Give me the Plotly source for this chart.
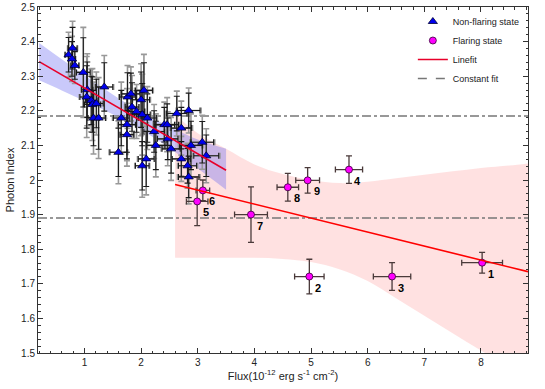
import plotly.graph_objects as go

# non-flaring state (blue triangles)
nf_flux = [0.72, 0.79, 0.78, 0.83, 0.98, 1.05, 1.04, 1.12, 1.14, 1.21, 1.16, 1.25, 1.35, 1.65,
           1.60, 1.75, 1.75, 1.76, 1.82, 1.84, 1.92, 2.00, 2.05, 2.02, 2.11, 2.02, 2.09, 2.23,
           2.26, 2.41, 2.46, 2.47, 2.53, 2.63, 2.84, 2.71, 2.71, 2.88, 2.82, 2.84, 3.08, 3.15]
nf_index = [2.362, 2.381, 2.350, 2.331, 2.311, 2.261, 2.240, 2.230, 2.218, 2.221, 2.179, 2.179,
            2.269, 2.179, 2.080, 2.160, 2.131, 2.240, 2.249, 2.211, 2.198, 2.232, 2.259, 2.189,
            2.179, 2.041, 2.061, 2.140, 2.100, 2.160, 2.160, 2.119, 2.090, 2.192, 2.201, 2.150,
            2.061, 2.100, 2.041, 2.009, 2.109, 2.070]
nf_flux_err = [0.06, 0.08, 0.06, 0.07, 0.12, 0.10, 0.12, 0.10, 0.14, 0.12, 0.10, 0.12, 0.15, 0.14,
               0.15, 0.15, 0.12, 0.14, 0.16, 0.12, 0.14, 0.15, 0.15, 0.14, 0.16, 0.12, 0.14, 0.18,
               0.16, 0.18, 0.20, 0.18, 0.16, 0.18, 0.20, 0.18, 0.16, 0.20, 0.16, 0.18, 0.20, 0.22]
nf_index_err = [0.05, 0.06, 0.05, 0.04, 0.10, 0.08, 0.09, 0.07, 0.08, 0.07, 0.08, 0.09, 0.07, 0.08,
                0.07, 0.08, 0.07, 0.07, 0.06, 0.07, 0.06, 0.08, 0.08, 0.09, 0.07, 0.07, 0.08, 0.06,
                0.07, 0.05, 0.06, 0.06, 0.07, 0.05, 0.05, 0.06, 0.05, 0.07, 0.05, 0.06, 0.06, 0.06]

# flaring state (magenta circles), labelled 1..9
fl_label = ["1", "2", "3", "4", "5", "6", "7", "8", "9"]
fl_flux = [8.02, 4.97, 6.43, 5.67, 2.99, 3.09, 3.94, 4.59, 4.94]
fl_index = [1.761, 1.721, 1.721, 2.030, 1.938, 1.970, 1.900, 1.979, 1.999]
fl_flux_err = [0.36, 0.26, 0.33, 0.24, 0.19, 0.12, 0.29, 0.19, 0.21]
fl_index_err = [0.03, 0.05, 0.04, 0.04, 0.07, 0.03, 0.08, 0.04, 0.037]

# linear fits and confidence bands
nf_fit_x = [0.2, 3.5]
nf_fit_y = [2.342, 2.028]
nf_band_x = [0.2, 0.6, 1.0, 1.4, 1.8, 2.2, 2.6, 3.0, 3.5]
nf_band_hi = [2.396, 2.349, 2.303, 2.258, 2.216, 2.179, 2.147, 2.117, 2.090]
nf_band_lo = [2.288, 2.259, 2.229, 2.198, 2.164, 2.125, 2.081, 2.033, 1.972]

fl_fit_x = [2.6, 8.83]
fl_fit_y = [1.987, 1.735]
fl_band_x = [2.6, 3.0, 3.5, 4.0, 4.5, 5.0, 5.5, 6.0, 6.5, 7.0, 7.5, 8.0, 8.5, 8.83]
fl_band_hi = [2.19, 2.135, 2.09, 2.045, 2.017, 1.999, 1.991, 1.995, 2.005, 2.015, 2.025, 2.035, 2.042, 2.048]
fl_band_lo = [1.775, 1.775, 1.775, 1.775, 1.772, 1.763, 1.742, 1.708, 1.658, 1.608, 1.557, 1.507, 1.457, 1.42]

# constant fits
const_levels = [2.185, 1.890]

x_range = [0.18, 8.83]
y_range = [1.5, 2.5]

fig = go.Figure()

# confidence bands
fig.add_trace(go.Scatter(x=fl_band_x, y=fl_band_lo, mode="lines", line=dict(width=0, shape="spline"),
                         showlegend=False, hoverinfo="skip"))
fig.add_trace(go.Scatter(x=fl_band_x, y=fl_band_hi, mode="lines", line=dict(width=0, shape="spline"),
                         fill="tonexty", fillcolor="rgba(255,170,170,0.35)", showlegend=False, hoverinfo="skip"))
fig.add_trace(go.Scatter(x=nf_band_x, y=nf_band_lo, mode="lines", line=dict(width=0, shape="spline"),
                         showlegend=False, hoverinfo="skip"))
fig.add_trace(go.Scatter(x=nf_band_x, y=nf_band_hi, mode="lines", line=dict(width=0, shape="spline"),
                         fill="tonexty", fillcolor="rgba(100,100,240,0.35)", showlegend=False, hoverinfo="skip"))

# constant fit lines
for lev in const_levels:
  fig.add_trace(go.Scatter(x=x_range, y=[lev, lev], mode="lines",
                           line=dict(color="#777777", width=1.6, dash="dashdot"),
                           showlegend=False, hoverinfo="skip"))

# grey error bar underlay
fig.add_trace(go.Scatter(x=nf_flux, y=nf_index, mode="markers", marker=dict(size=1, opacity=0),
                         error_x=dict(type="data", array=[e * 1.1 for e in nf_flux_err], color="#999999", thickness=1.6, width=3),
                         error_y=dict(type="data", array=[e * 1.3 for e in nf_index_err], color="#999999", thickness=1.6, width=3),
                         showlegend=False, hoverinfo="skip"))

fig.add_trace(go.Scatter(x=nf_flux, y=nf_index, mode="markers", name="Non-flaring state",
                         marker=dict(symbol="triangle-up", size=8, color="#0000ee", line=dict(color="#000033", width=0.8)),
                         error_x=dict(type="data", array=nf_flux_err, color="#1a1a1a", thickness=1.1, width=3),
                         error_y=dict(type="data", array=nf_index_err, color="#1a1a1a", thickness=1.1, width=3)))

fig.add_trace(go.Scatter(x=fl_flux, y=fl_index, mode="markers", name="Flaring state",
                         marker=dict(symbol="circle", size=7, color="#ff00ff", line=dict(color="#330033", width=0.8)),
                         error_x=dict(type="data", array=fl_flux_err, color="#4a3a3a", thickness=1.3, width=3),
                         error_y=dict(type="data", array=fl_index_err, color="#4a3a3a", thickness=1.3, width=3)))

# fit lines
fig.add_trace(go.Scatter(x=nf_fit_x, y=nf_fit_y, mode="lines", line=dict(color="#e8002a", width=1.6),
                         name="Linefit"))
fig.add_trace(go.Scatter(x=fl_fit_x, y=fl_fit_y, mode="lines", line=dict(color="#ff0000", width=1.6),
                         showlegend=False))

# legend entry for constant fit
fig.add_trace(go.Scatter(x=[None], y=[None], mode="lines", name="Constant fit",
                         line=dict(color="#777777", width=1.6, dash="dash")))

for lab, fx, fy in zip(fl_label, fl_flux, fl_index):
  fig.add_annotation(x=fx, y=fy, text="<b>" + lab + "</b>", showarrow=False,
                     xshift=9, yshift=-11, font=dict(size=11, color="black"))

axis_style = dict(showline=True, linecolor="#333333", linewidth=1, mirror="allticks",
                  ticks="inside", ticklen=5, tickcolor="#333333", showgrid=False, zeroline=False,
                  automargin=False, tickfont=dict(size=10, color="#222222"))

fig.update_layout(
  width=545, height=389,
  margin=dict(l=38, r=17, t=7, b=36),
  paper_bgcolor="white", plot_bgcolor="white",
  font=dict(family="Liberation Sans, Arial, sans-serif", size=10, color="#222222"),
  xaxis=dict(range=x_range, dtick=1, tick0=0,
             minor=dict(dtick=0.2, ticklen=2.5, ticks="inside", tickcolor="#333333"),
             title=dict(text="Flux(10<sup>-12</sup> erg s<sup>-1</sup> cm<sup>-2</sup>)", font=dict(size=11), standoff=2),
             **axis_style),
  yaxis=dict(range=y_range, dtick=0.1, tick0=0,
             minor=dict(dtick=0.02, ticklen=2.5, ticks="inside", tickcolor="#333333"),
             title=dict(text="Photon Index", font=dict(size=11), standoff=4),
             **axis_style),
  legend=dict(x=0.765, y=1.0, xanchor="left", yanchor="top", bgcolor="rgba(0,0,0,0)",
              font=dict(size=9), tracegroupgap=0, itemwidth=30, traceorder="normal"),
  showlegend=True,
)

fig.write_html("out.html", config={"displayModeBar": False},
               post_script="document.body.style.margin='0';")
